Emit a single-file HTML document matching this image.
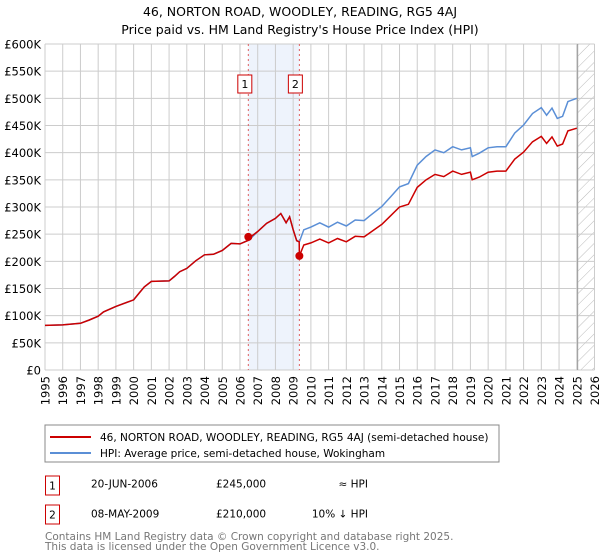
<!DOCTYPE html>
<html><head><meta charset="utf-8"><style>
body{margin:0;background:#fff;}
svg{display:block;font-family:"DejaVu Sans","Liberation Sans",sans-serif;}
</style></head><body>
<svg id="chart" width="600" height="560" viewBox="0 0 600 560">
<defs>
<pattern id="hatch" width="8" height="8" patternUnits="userSpaceOnUse" patternTransform="rotate(45)">
<line x1="0" y1="0" x2="0" y2="8" stroke="#bbb" stroke-width="1"/>
</pattern>
</defs>
<text x="300" y="16" text-anchor="middle" font-size="12.5" fill="#000">46, NORTON ROAD, WOODLEY, READING, RG5 4AJ</text>
<text x="300" y="34" text-anchor="middle" font-size="12.5" fill="#000">Price paid vs. HM Land Registry's House Price Index (HPI)</text>
<g id="grid"></g>
<g id="marks"></g>
<g id="axes"></g>
<rect x="45" y="425" width="454" height="37" fill="#fff" stroke="#888"/>
<line x1="50" y1="437" x2="91" y2="437" stroke="#cc0000" stroke-width="2"/>
<text x="100" y="441" font-size="10.5">46, NORTON ROAD, WOODLEY, READING, RG5 4AJ (semi-detached house)</text>
<line x1="50" y1="453" x2="91" y2="453" stroke="#5b8fd6" stroke-width="2"/>
<text x="100" y="457" font-size="10.5">HPI: Average price, semi-detached house, Wokingham</text>
<g>
<rect x="45.5" y="476" width="14" height="19" fill="#fff" stroke="#cc0000"/>
<text x="52.5" y="489.5" text-anchor="middle" font-size="10.5">1</text>
<text x="91" y="487.5" font-size="10.5">20-JUN-2006</text>
<text x="216" y="487.5" font-size="10.5">£245,000</text>
<text x="368" y="487.5" text-anchor="end" font-size="10.5">≈ HPI</text>
</g>
<g>
<rect x="45.5" y="505" width="14" height="19" fill="#fff" stroke="#cc0000"/>
<text x="52.5" y="518.5" text-anchor="middle" font-size="10.5">2</text>
<text x="91" y="517.5" font-size="10.5">08-MAY-2009</text>
<text x="216" y="517.5" font-size="10.5">£210,000</text>
<text x="368" y="517.5" text-anchor="end" font-size="10.5">10% ↓ HPI</text>
</g>
<text x="45" y="540" font-size="10.5" fill="#777">Contains HM Land Registry data © Crown copyright and database right 2025.</text>
<text x="45" y="550" font-size="10.5" fill="#777">This data is licensed under the Open Government Licence v3.0.</text>
</svg>
<script>
const yearTicks=[1995,1996,1997,1998,1999,2000,2001,2002,2003,2004,2005,2006,2007,2008,2009,2010,2011,2012,2013,2014,2015,2016,2017,2018,2019,2020,2021,2022,2023,2024,2025,2026];
const valueTicks=[0,50,100,150,200,250,300,350,400,450,500,550,600];
const valueLabels=["£0","£50K","£100K","£150K","£200K","£250K","£300K","£350K","£400K","£450K","£500K","£550K","£600K"];
const hpiDates=[1995,1996,1997,1997.5,1998,1998.3,1999,2000,2000.3,2000.6,2001,2002,2002.3,2002.6,2003,2003.5,2004,2004.5,2005,2005.5,2006,2006.5,2006.6,2007,2007.5,2008,2008.3,2008.6,2008.8,2009,2009.2,2009.35,2009.6,2010,2010.5,2011,2011.5,2012,2012.5,2013,2013.3,2014,2014.5,2015,2015.5,2016,2016.5,2017,2017.5,2018,2018.5,2019,2019.1,2019.5,2020,2020.5,2021,2021.5,2022,2022.5,2023,2023.3,2023.6,2023.9,2024.2,2024.5,2025];
const hpiValues=[82,83,86,92,99,107,117,129,141,153,163,164,172,181,187,201,212,213,220,233,232,239,242,255,270,279,288,271,282,258,238,236,258,263,271,263,272,265,276,275,283,301,319,337,343,377,393,405,400,411,405,409,393,399,409,411,411,436,451,472,483,469,482,463,467,494,500];
const priceDates=[1995,1996,1997,1997.5,1998,1998.3,1999,2000,2000.3,2000.6,2001,2002,2002.3,2002.6,2003,2003.5,2004,2004.5,2005,2005.5,2006,2006.5,2006.6,2007,2007.5,2008,2008.3,2008.6,2008.8,2009,2009.2,2009.34,2009.35,2009.6,2010,2010.5,2011,2011.5,2012,2012.5,2013,2013.3,2014,2014.5,2015,2015.5,2016,2016.5,2017,2017.5,2018,2018.5,2019,2019.1,2019.5,2020,2020.5,2021,2021.5,2022,2022.5,2023,2023.3,2023.6,2023.9,2024.2,2024.5,2025];
const priceValues=[82,83,86,92,99,107,117,129,141,153,163,164,172,181,187,201,212,213,220,233,232,239,245,255,270,279,288,271,282,258,238,236,210,230,234,241,234,242,236,246,245,252,268,284,300,305,336,350,360,356,366,360,364,350,355,364,366,366,388,401,420,430,417,429,412,416,440,445];
const saleDates=[2006.47,2009.35];
const saleValues=[245,210];
const saleLabels=["1","2"];
const dataEnd=2025.05;

const X0=45,X1=594.5,Y0=370,Y1=44;
const x=t=>X0+(t-1995)/(2026-1995)*(X1-X0);
const y=v=>Y0-v/600*(Y0-Y1);
const NS="http://www.w3.org/2000/svg";
function mk(tag,attrs,parent){const e=document.createElementNS(NS,tag);for(const k in attrs)e.setAttribute(k,attrs[k]);parent.appendChild(e);return e;}
const grid=document.getElementById('grid'),marks=document.getElementById('marks'),axes=document.getElementById('axes');

const shade=mk('rect',{x:x(saleDates[0]),y:Y1,width:x(saleDates[1])-x(saleDates[0]),height:Y0-Y1,fill:'#eef3fc'},grid);


const hat=mk('rect',{x:x(dataEnd),y:Y1,width:X1-x(dataEnd),height:Y0-Y1,fill:'url(#hatch)'},grid);



yearTicks.forEach(t=>{
  const l=mk('line',{x1:x(t),x2:x(t),y1:Y1,y2:Y0,stroke:'#ccc','stroke-width':1},grid);
  
  
  const tx=mk('text',{transform:`translate(${x(t)+4.5},376) rotate(-90)`,'text-anchor':'end','font-size':'11.5'},axes);
  tx.textContent=t;
  
  
});
valueTicks.forEach((v,i)=>{
  const l=mk('line',{x1:X0,x2:X1,y1:y(v),y2:y(v),stroke:'#ccc','stroke-width':1},grid);
  
  
  const tx=mk('text',{x:41,y:y(v)+4.5,'text-anchor':'end','font-size':'11.5'},axes);
  tx.textContent=valueLabels[i];
  
  
});
const endLine=mk('line',{x1:x(dataEnd),x2:x(dataEnd),y1:Y1,y2:Y0,stroke:'#999','stroke-width':1},grid);



saleDates.forEach((d,i)=>{
  const l=mk('line',{x1:x(d),x2:x(d),y1:Y1,y2:Y0,stroke:'#e06060','stroke-width':1,'stroke-dasharray':'2,3'},grid);
  
  
  const bx=i===0?x(d)-10.5:x(d)-11;
  const r=mk('rect',{x:bx,y:75,width:14,height:18,fill:'#fff',stroke:'#cc0000'},axes);
  
  
  const tx=mk('text',{x:bx+7,y:88,'text-anchor':'middle','font-size':'11'},axes);
  tx.textContent=saleLabels[i];
  
  
});

function path(ds,vs){return ds.map((d,i)=>(i?'L':'M')+x(d).toFixed(1)+','+y(vs[i]).toFixed(1)).join('');}
const hp=mk('path',{d:path(hpiDates,hpiValues),fill:'none',stroke:'#5b8fd6','stroke-width':1.5},marks);


const pp=mk('path',{d:path(priceDates,priceValues),fill:'none',stroke:'#cc0000','stroke-width':1.5},marks);


saleDates.forEach((d,i)=>{
  const c=mk('circle',{cx:x(d),cy:y(saleValues[i]),r:4,fill:'#cc0000'},marks);
  
  
});
</script>
</body></html>
